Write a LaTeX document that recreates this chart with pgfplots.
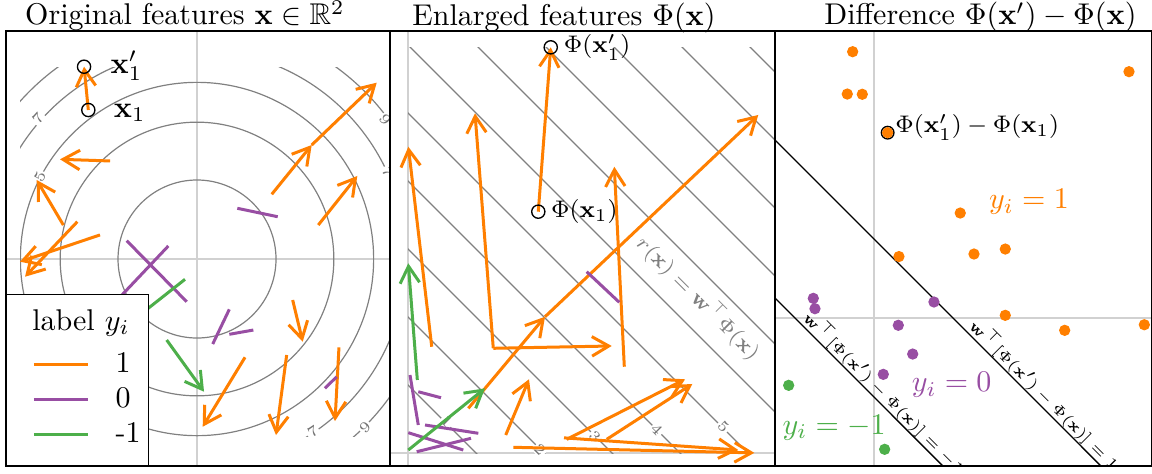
\documentclass[border=0pt]{standalone}
\usepackage{amsmath,amssymb}
\usepackage{pgfplots}
\pgfplotsset{compat=1.18}
\usetikzlibrary{arrows.meta}
\definecolor{cor}{HTML}{FF7F00}
\definecolor{cpu}{HTML}{984EA3}
\definecolor{cgr}{HTML}{4DAF4A}
\tikzset{
  clab/.style={font=\tiny, text=black!55, fill=white, inner sep=0.4pt},
  cline/.style={black!50, line width=0.4pt},
}
\pgfplotsset{
  panel/.style={scale only axis, anchor=south west, axis lines=box,
    axis line style={line width=0.5pt},
    xtick={0}, ytick={0}, xticklabels={}, yticklabels={},
    tick style={draw=none}, major tick length=0pt,
    grid=major, grid style={line width=0.5pt, black!18},
    title style={anchor=base, font=\normalsize, inner sep=0pt}},
  oa/.style={cor, line width=1pt, -{Straight Barb[length=5.6pt,width=6.5pt]}, forget plot},
  pa/.style={cpu, line width=1pt, forget plot},
  ga/.style={cgr, line width=1pt, -{Straight Barb[length=5.6pt,width=6.5pt]}, forget plot},
  ring/.style={only marks, mark=o, black, mark size=2.2pt, mark options={line width=0.45pt}, forget plot},
}
\newcommand{\rotfont}{\fontsize{5.35}{6.2}\selectfont}
\begin{document}
\begin{tikzpicture}
\useasboundingbox (0,0) rectangle (384pt,157.667pt);
% ---------------- Panel 1 ----------------
\begin{axis}[panel, at={(2pt,2.333pt)}, width=128pt, height=145pt,
  xmin=-2.418, xmax=2.443, ymin=-2.620, ymax=2.886,
  title={Original features $\mathbf{x}\in\mathbb{R}^2$},
  title style={at={(0.466,1)}, yshift=-4pt},
  legend style={at={(0.0669,0.2648)}, anchor=north west, draw=none, fill=none,
    inner sep=0pt, row sep=2.67pt, column sep=8.67pt, font=\normalsize,
    nodes={inner sep=0pt, text height=7pt, text depth=2pt}},
  legend cell align=left,
  legend image code/.code={\draw[#1, line width=1pt] (0pt,0pt) -- (18.1pt,0pt);}]
\begin{scope}
\clip (axis cs:-2.24,-2.25) rectangle (axis cs:2.6,2.43);
\draw[cline] (axis cs:0,0) circle[radius=1];
\draw[cline] (axis cs:0,0) circle[radius=1.732];
\draw[cline] (axis cs:0,0) circle[radius=2.236];
\draw[cline] (axis cs:0,0) circle[radius=2.646];
\draw[cline] (axis cs:0,0) circle[radius=3];
\end{scope}
\node[clab, rotate=48] at (axis cs:-2.013,1.785) {7};
\node[clab, rotate=62] at (axis cs:-1.987,1.038) {5};
\node[clab, rotate=-53] at (axis cs:2.380,1.759) {9};
\node[clab, rotate=-66] at (axis cs:2.418,1.101) {7};
\node[clab, rotate=34] at (axis cs:1.468,-2.190) {7};
\node[clab, rotate=45] at (axis cs:2.127,-2.127) {9};
% label 1
\addplot[oa] coordinates {(-1.376,1.886) (-1.430,2.434)};
\addplot[oa] coordinates {(-1.101,1.241) (-1.734,1.262)};
\addplot[oa] coordinates {(-1.692,0.430) (-2.029,1.000)};
\addplot[oa] coordinates {(-1.228,0.304) (-2.241,-0.034)};
\addplot[oa] coordinates {(-1.515,0.472) (-2.177,-0.224)};
\addplot[oa] coordinates {(0.946,0.819) (1.452,1.443)};
\addplot[oa] coordinates {(1.452,1.443) (2.275,2.232)};
\addplot[oa] coordinates {(1.535,0.430) (2.029,1.051)};
\addplot[oa] coordinates {(1.211,-0.519) (1.338,-1.047)};
\addplot[oa] coordinates {(0.608,-1.244) (0.072,-2.123)};
\addplot[oa] coordinates {(1.135,-1.215) (1.000,-2.228)};
\addplot[oa] coordinates {(1.797,-1.118) (1.747,-2.051)};
% label 0
\addplot[pa] coordinates {(0.510,0.642) (1.022,0.535)};
\addplot[pa] coordinates {(-0.890,0.232) (-0.130,-0.541)};
\addplot[pa] coordinates {(-0.363,0.165) (-0.962,-0.468)};
\addplot[pa] coordinates {(0.409,-0.637) (0.199,-1.076)};
\addplot[pa] coordinates {(0.409,-0.953) (0.713,-0.899)};
\addplot[pa] coordinates {(1.620,-1.637) (1.768,-1.490)};
% label -1
\addplot[ga] coordinates {(-0.152,-0.257) (-1.063,-0.975)};
\addplot[ga] coordinates {(-0.384,-1.025) (0.089,-1.680)};
\addplot[ring] coordinates {(-1.376,1.886) (-1.430,2.434)};
\node[anchor=base west, inner sep=0pt, xshift=8.67pt, yshift=-2.2pt] at (axis cs:-1.430,2.434) {$\mathbf{x}_1'$};
\node[anchor=base west, inner sep=0pt, xshift=8.33pt, yshift=-2.4pt] at (axis cs:-1.376,1.886) {$\mathbf{x}_1$};
% legend box
\draw[fill=white, line width=0.5pt] (axis description cs:0,0) rectangle (axis description cs:0.3706,0.3947);
\node[anchor=base west, inner sep=0pt] at (axis description cs:0.0669,0.3126) {label $y_i$};
\addlegendimage{cor}\addlegendentry{1}
\addlegendimage{cpu}\addlegendentry{0}
\addlegendimage{cgr}\addlegendentry{-1}
\end{axis}
% ---------------- Panel 2 ----------------
\begin{axis}[panel, at={(130pt,2.333pt)}, width=128.333pt, height=145pt,
  xmin=-0.265, xmax=5.397, ymin=-0.191, ymax=6.206,
  title={Enlarged features $\Phi(\mathbf{x})$},
  title style={at={(0.452,1)}, yshift=-4pt}]
\begin{scope}
\clip (axis cs:0,0) rectangle (axis cs:6,5.96);
\draw[cline] (axis cs:-6,7) -- (axis cs:8,-7);
\draw[cline] (axis cs:-5,7) -- (axis cs:9,-7);
\draw[cline] (axis cs:-4,7) -- (axis cs:10,-7);
\draw[cline] (axis cs:-3,7) -- (axis cs:11,-7);
\draw[cline] (axis cs:-2,7) -- (axis cs:12,-7);
\draw[cline] (axis cs:-1,7) -- (axis cs:13,-7);
\draw[cline] (axis cs:0,7) -- (axis cs:14,-7);
\draw[cline] (axis cs:1,7) -- (axis cs:15,-7);
\draw[cline] (axis cs:2,7) -- (axis cs:16,-7);
\draw[cline] (axis cs:3,7) -- (axis cs:17,-7);
\draw[cline] (axis cs:4,7) -- (axis cs:18,-7);
\end{scope}
\node[clab, rotate=-45] at (axis cs:0.569,0.460) {1};
\node[clab, rotate=-45] at (axis cs:1.94,0.05) {2};
\node[clab, rotate=-45] at (axis cs:2.75,0.24) {3};
\node[clab, rotate=-45] at (axis cs:3.66,0.34) {4};
\node[clab, rotate=-45] at (axis cs:4.64,0.39) {5};
\node[rotate=-45, font=\scriptsize, text=black!50] at (axis cs:4.272,2.279) {$r(\mathbf{x})=\mathbf{w}^\top\Phi(\mathbf{x})$};
\addplot[oa] coordinates {(1.916,3.549) (2.099,5.966)};
\addplot[oa] coordinates {(0.349,1.563) (0.005,4.504)};
\addplot[oa] coordinates {(1.254,1.540) (0.985,4.996)};
\addplot[oa] coordinates {(1.254,1.540) (2.996,1.574)};
\addplot[oa] coordinates {(3.181,1.269) (3.034,4.210)};
\addplot[oa] coordinates {(0.887,0.657) (2.015,2.004)};
\addplot[oa] coordinates {(2.015,2.004) (5.151,4.971)};
\addplot[oa] coordinates {(1.437,0.265) (1.779,1.084)};
\addplot[oa] coordinates {(2.334,0.201) (4.074,1.084)};
\addplot[oa] coordinates {(2.922,0.201) (4.181,1.015)};
\addplot[oa] coordinates {(2.294,0.223) (4.857,0.044)};
\addplot[oa] coordinates {(1.549,0.084) (5.093,0.002)};
\addplot[pa] coordinates {(0.250,0.412) (1.034,0.290)};
\addplot[pa] coordinates {(0.004,0.299) (0.813,0.044)};
\addplot[pa] coordinates {(0.128,0.019) (0.926,0.216)};
\addplot[pa] coordinates {(0.029,1.147) (0.151,0.412)};
\addplot[pa] coordinates {(0.151,0.901) (0.485,0.813)};
\addplot[pa] coordinates {(2.628,2.666) (3.107,2.216)};
\addplot[ga] coordinates {(0.004,0.044) (1.132,0.951)};
\addplot[ga] coordinates {(0.137,1.074) (0.004,2.790)};
\addplot[ring] coordinates {(1.916,3.549) (2.099,5.966)};
\node[anchor=west, inner sep=0pt, xshift=4.2pt, font=\footnotesize] at (axis cs:2.099,5.966) {$\Phi(\mathbf{x}_1')$};
\node[anchor=west, inner sep=0pt, xshift=4.1pt, font=\footnotesize] at (axis cs:1.916,3.549) {$\Phi(\mathbf{x}_1)$};
\end{axis}
% ---------------- Panel 3 ----------------
\begin{axis}[panel, at={(258.333pt,2.333pt)}, width=125.667pt, height=145pt,
  xmin=-1.253, xmax=3.519, ymin=-1.873, ymax=3.633,
  title={Difference $\Phi(\mathbf{x}')-\Phi(\mathbf{x})$},
  title style={at={(0.545,1)}, yshift=-4pt}]
\draw[black, line width=0.45pt] (axis cs:-3,4) -- (axis cs:5,-4);
\draw[black, line width=0.45pt] (axis cs:-3,2) -- (axis cs:4,-5);
\node[rotate=-45, anchor=base, inner sep=0pt, font=\rotfont] at (axis cs:2.106,-1.026) {$\mathbf{w}^\top[\Phi(\mathbf{x}')-\Phi(\mathbf{x})]=1$};
\node[rotate=-45, anchor=base, inner sep=0pt, font=\rotfont] at (axis cs:0.078,-0.998) {$\mathbf{w}^\top[\Phi(\mathbf{x}')-\Phi(\mathbf{x})]=-1$};
\addplot[ring, mark size=2.1pt] coordinates {(0.173,2.346)};
\addplot[only marks, mark=*, mark size=1.67pt, cor, forget plot] coordinates {
 (-0.270,3.371) (-0.338,2.835) (-0.148,2.832) (3.228,3.118) (0.173,2.346)
 (1.092,1.329) (0.316,0.778) (1.266,0.810) (1.662,0.873) (1.662,0.034)
 (2.414,-0.156) (3.422,-0.085)};
\addplot[only marks, mark=*, mark size=1.67pt, cpu, forget plot] coordinates {
 (-0.768,0.249) (-0.747,0.118) (0.759,0.203) (0.308,-0.092) (0.490,-0.456) (0.118,-0.713)};
\addplot[only marks, mark=*, mark size=1.67pt, cgr, forget plot] coordinates {
 (-1.080,-0.852) (0.135,-1.662)};
\node[anchor=base west, inner sep=0pt, xshift=2.4pt, font=\footnotesize] at (axis cs:0.173,2.346) {$\Phi(\mathbf{x}_1')-\Phi(\mathbf{x}_1)$};
\node[anchor=base, text=cor] at (axis cs:1.962,1.380) {$y_i=1$};
\node[anchor=base, text=cpu] at (axis cs:0.983,-0.932) {$y_i=0$};
\node[anchor=base, text=cgr] at (axis cs:-0.504,-1.468) {$y_i=-1$};
\end{axis}
\end{tikzpicture}
\end{document}
